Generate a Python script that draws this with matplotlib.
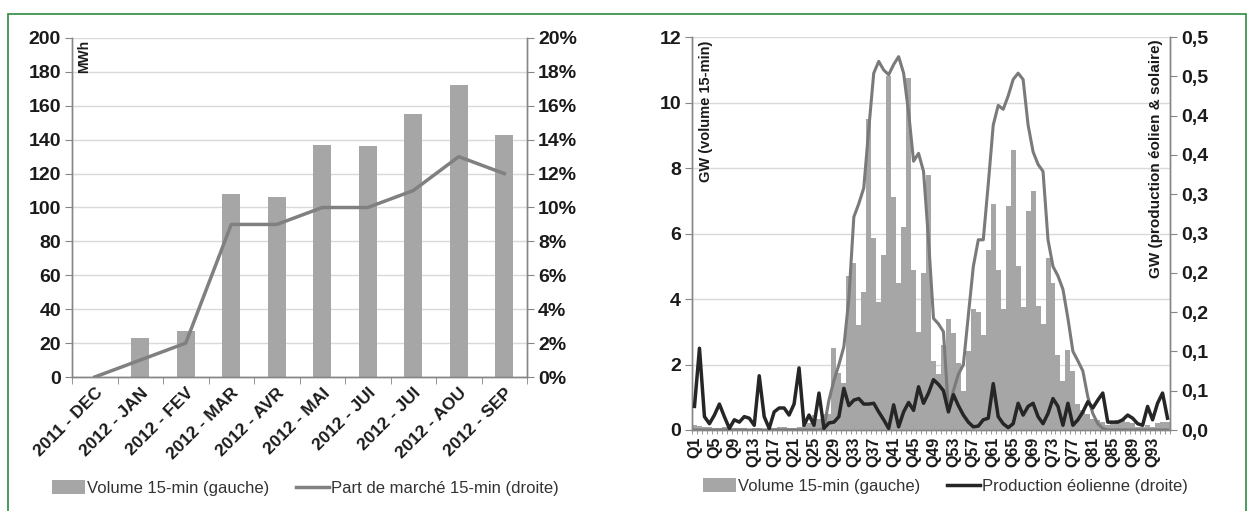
import matplotlib
matplotlib.use("Agg")
import matplotlib.pyplot as plt
from matplotlib.patches import Rectangle, Patch
from matplotlib.lines import Line2D
import numpy as np

plt.rcParams['font.family'] = ['Liberation Sans', 'DejaVu Sans']

# ---------------- Left chart data ----------------
months = ["2011 - DEC", "2012 - JAN", "2012 - FEV", "2012 - MAR", "2012 - AVR",
          "2012 - MAI", "2012 - JUI", "2012 - JUI", "2012 - AOU", "2012 - SEP"]
volume_mwh = [0, 23, 27, 108, 106, 137, 136, 155, 172, 143]
market_share = [0.0, 0.01, 0.02, 0.09, 0.09, 0.10, 0.10, 0.11, 0.13, 0.12]
left_yticks = [0, 20, 40, 60, 80, 100, 120, 140, 160, 180, 200]
share_ticks = [0.0, 0.02, 0.04, 0.06, 0.08, 0.10, 0.12, 0.14, 0.16, 0.18, 0.20]
share_ticklabels = ["0%", "2%", "4%", "6%", "8%", "10%", "12%", "14%", "16%", "18%", "20%"]

# ---------------- Right chart data ----------------
quarters = ["Q%d" % i for i in range(1, 97)]
volume_gw = [
    0.15, 0.12, 0.10, 0.08, 0.06, 0.05, 0.08, 0.06, 0.05, 0.07,
    0.05, 0.04, 0.06, 0.05, 0.04, 0.06, 0.05, 0.08, 0.10, 0.06,
    0.05, 0.10, 0.15, 0.20, 0.45, 0.35, 0.50, 0.50, 2.50, 1.73,
    1.43, 4.70, 5.10, 3.20, 4.20, 9.50, 5.85, 3.90, 5.35, 10.80,
    7.10, 4.50, 6.20, 10.75, 4.90, 3.00, 4.80, 7.80, 2.10, 1.70,
    2.60, 3.40, 2.95, 2.05, 1.20, 2.40, 3.70, 3.60, 2.90, 5.50,
    6.90, 4.90, 3.70, 6.85, 8.55, 5.00, 3.77, 6.70, 7.30, 3.80,
    3.25, 5.25, 4.50, 2.30, 1.50, 2.45, 1.80, 0.80, 0.60, 0.50,
    0.35, 0.30, 0.25, 0.15, 0.20, 0.30, 0.30, 0.25, 0.20, 0.10,
    0.10, 0.15, 0.10, 0.20, 0.25, 0.25]
solar_gw = [
    0.0, 0.0, 0.0, 0.0, 0.0, 0.0, 0.0, 0.0, 0.0, 0.0,
    0.0, 0.0, 0.0, 0.0, 0.0, 0.0, 0.0, 0.0, 0.0, 0.0,
    0.0, 0.0, 0.0, 0.0, 0.0, 0.0, 0.002, 0.038, 0.063, 0.083,
    0.106, 0.167, 0.271, 0.288, 0.308, 0.383, 0.454, 0.469, 0.458, 0.452,
    0.465, 0.475, 0.454, 0.404, 0.342, 0.352, 0.329, 0.242, 0.142, 0.135,
    0.125, 0.025, 0.050, 0.071, 0.083, 0.146, 0.208, 0.242, 0.242, 0.313,
    0.388, 0.413, 0.408, 0.425, 0.446, 0.454, 0.446, 0.388, 0.354, 0.338,
    0.329, 0.242, 0.208, 0.196, 0.179, 0.142, 0.100, 0.088, 0.075, 0.042,
    0.021, 0.008, 0.002, 0.0, 0.0, 0.0, 0.0, 0.0, 0.0, 0.0,
    0.0, 0.0, 0.0, 0.0, 0.0, 0.0]
wind_gw = [
    0.030, 0.104, 0.017, 0.008, 0.019, 0.033, 0.017, 0.002, 0.013, 0.010,
    0.017, 0.015, 0.006, 0.069, 0.017, 0.002, 0.023, 0.028, 0.028, 0.019,
    0.033, 0.079, 0.006, 0.019, 0.006, 0.047, 0.002, 0.009, 0.010, 0.017,
    0.053, 0.031, 0.038, 0.040, 0.033, 0.033, 0.034, 0.023, 0.013, 0.002,
    0.032, 0.004, 0.023, 0.035, 0.025, 0.055, 0.034, 0.047, 0.064, 0.058,
    0.050, 0.023, 0.045, 0.031, 0.019, 0.010, 0.004, 0.005, 0.013, 0.015,
    0.059, 0.017, 0.008, 0.003, 0.008, 0.034, 0.019, 0.030, 0.034, 0.017,
    0.008, 0.021, 0.040, 0.030, 0.006, 0.034, 0.006, 0.013, 0.023, 0.036,
    0.028, 0.038, 0.047, 0.010, 0.010, 0.010, 0.013, 0.019, 0.015, 0.008,
    0.006, 0.030, 0.013, 0.034, 0.047, 0.015]
gw_left_ticks = [0, 2, 4, 6, 8, 10, 12]
gw_right_ticks = [0.0, 0.05, 0.10, 0.15, 0.20, 0.25, 0.30, 0.35, 0.40, 0.45, 0.50]
gw_right_ticklabels = ["0,0", "0,1", "0,1", "0,2", "0,2", "0,3", "0,3", "0,4", "0,4", "0,5", "0,5"]

BAR = "#a6a6a6"
SPINE = "#868686"
GRID = "#d9d9d9"
TXT = "#1a1a1a"

W, H = 1249, 511
fig = plt.figure(figsize=(W / 100, H / 100), dpi=100)
fig.patch.set_facecolor("white")

# green frame
fig.add_artist(Rectangle((8 / W, -0.05), (1246 - 8) / W, 1 - 14 / H + 0.05,
                         transform=fig.transFigure, fill=False,
                         edgecolor="#2e8b3e", linewidth=1.2))


def style_axes(ax):
    for s in ax.spines.values():
        s.set_color(SPINE)
        s.set_linewidth(1.0)


# ================= LEFT CHART =================
axL = fig.add_axes([72 / W, 1 - 377 / H, (527 - 72) / W, (377 - 38) / H])
x = np.arange(len(months))
axL.bar(x, volume_mwh, width=0.4, color=BAR, zorder=2)
axL.set_xlim(-0.5, len(months) - 0.5)
axL.set_ylim(0, 200)
axL.set_yticks(left_yticks)
axL.set_yticklabels([str(v) for v in left_yticks], fontsize=14, fontweight="bold", color=TXT)
axL.yaxis.grid(True, color=GRID, linewidth=1, zorder=0)
axL.set_axisbelow(True)
axL.set_xticks(x)
axL.set_xticklabels(months, rotation=45, ha="right", rotation_mode="anchor",
                    fontsize=12.5, fontweight="bold", color=TXT)
axL.tick_params(axis="x", which="major", length=0, pad=6)
axL.set_xticks(np.arange(-0.5, len(months) + 0.5, 1), minor=True)
axL.tick_params(axis="x", which="minor", length=5, color=SPINE)
axL.tick_params(axis="y", length=5, color=SPINE, pad=3)
style_axes(axL)
axL.spines["top"].set_visible(False)
axL.text(0.012, 0.995, "MWh", transform=axL.transAxes, rotation=90, va="top", ha="left",
         fontsize=10, fontweight="bold", color=TXT)

axL2 = axL.twinx()
axL2.plot(x, market_share, color="#808080", linewidth=2.5, zorder=3)
axL2.set_ylim(0, 0.2)
axL2.set_yticks(share_ticks)
axL2.set_yticklabels(share_ticklabels, fontsize=14, fontweight="bold", color=TXT)
axL2.tick_params(axis="y", length=5, color=SPINE, pad=3)
style_axes(axL2)
axL2.spines["top"].set_visible(False)

legL = [Patch(facecolor=BAR, edgecolor="none"),
        Line2D([0], [0], color="#808080", linewidth=2.5)]
fig.legend(legL, ["Volume 15-min (gauche)", "Part de marché 15-min (droite)"],
           loc="center", bbox_to_anchor=(305 / W, 1 - 488 / H), ncol=2, frameon=False,
           fontsize=12, handlelength=2.0, handleheight=0.9, handletextpad=0.1,
           columnspacing=1.6, labelcolor="#333333")

# ================= RIGHT CHART =================
axR = fig.add_axes([692 / W, 1 - 430 / H, (1170 - 692) / W, (430 - 37) / H])
q = np.arange(len(quarters))
axR.bar(q, volume_gw, width=1.0, color=BAR, zorder=2, linewidth=0)
axR.set_xlim(-0.5, len(quarters) - 0.5)
axR.set_ylim(0, 12)
axR.set_yticks(gw_left_ticks)
axR.set_yticklabels([str(v) for v in gw_left_ticks], fontsize=14, fontweight="bold", color=TXT)
axR.yaxis.grid(True, color=GRID, linewidth=1, zorder=0)
axR.set_axisbelow(True)
axR.set_xticks(q[::4])
axR.set_xticklabels(quarters[::4], rotation=90, fontsize=11.5, fontweight="bold", color=TXT)
axR.tick_params(axis="x", which="major", length=0, pad=5)
axR.set_xticks(np.arange(-0.5, len(quarters) + 0.5, 1), minor=True)
axR.tick_params(axis="x", which="minor", length=3, color=SPINE)
axR.tick_params(axis="y", length=5, color=SPINE, pad=3)
style_axes(axR)
axR.spines["top"].set_visible(False)
axR.text(0.015, 0.99, "GW (volume 15-min)", transform=axR.transAxes, rotation=90,
         va="top", ha="left", fontsize=10.5, fontweight="bold", color=TXT)

axR2 = axR.twinx()
axR2.plot(q, solar_gw, color="#7a7a7a", linewidth=2.2, zorder=3)
axR2.plot(q, wind_gw, color="#262626", linewidth=2.5, zorder=4)
axR2.set_ylim(0, 0.5)
axR2.set_yticks(gw_right_ticks)
axR2.set_yticklabels(gw_right_ticklabels, fontsize=14, fontweight="bold", color=TXT)
axR2.tick_params(axis="y", length=5, color=SPINE, pad=3)
style_axes(axR2)
axR2.spines["top"].set_visible(False)
axR2.text(0.985, 0.995, "GW (production éolien & solaire)", transform=axR2.transAxes,
          rotation=90, va="top", ha="right", fontsize=11, fontweight="bold", color=TXT)

legR = [Patch(facecolor=BAR, edgecolor="none"),
        Line2D([0], [0], color="#262626", linewidth=2.5)]
fig.legend(legR, ["Volume 15-min (gauche)", "Production éolienne (droite)"],
           loc="center", bbox_to_anchor=(945 / W, 1 - 486 / H), ncol=2, frameon=False,
           fontsize=12, handlelength=2.0, handleheight=0.9, handletextpad=0.1,
           columnspacing=1.6, labelcolor="#333333")

fig.savefig("out.png", dpi=100)
